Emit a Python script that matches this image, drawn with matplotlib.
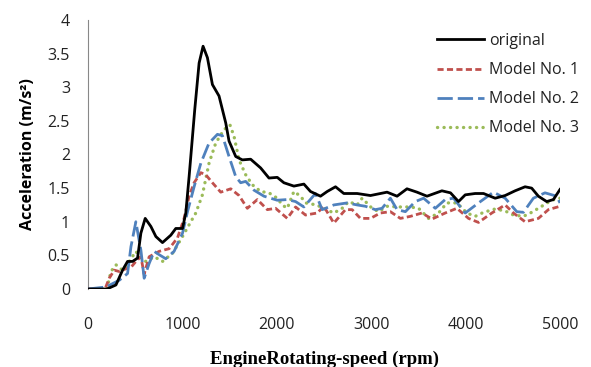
import matplotlib
matplotlib.use("Agg")
import matplotlib.pyplot as plt

# Engine speed (rpm) / acceleration (m/s^2)
orig_x = [0,200,296,366,419,472,525,560,606,666,719,789,877,930,1001,1036,1071,1107,1131,1177,1219,1265,1318,1388,1459,1494,1565,1635,1723,1829,1917,2005,2075,2181,2287,2357,2463,2534,2622,2710,2851,2992,3168,3274,3379,3485,3591,3749,3840,3925,3996,4101,4190,4313,4419,4524,4630,4700,4771,4859,4930,5000]
orig_y = [0,0,0.06,0.28,0.41,0.41,0.46,0.83,1.05,0.93,0.78,0.69,0.80,0.90,0.90,1.13,1.67,2.27,2.67,3.36,3.61,3.44,3.04,2.87,2.47,2.20,1.97,1.92,1.93,1.80,1.65,1.66,1.58,1.53,1.56,1.45,1.38,1.45,1.52,1.42,1.42,1.39,1.44,1.38,1.49,1.44,1.38,1.46,1.43,1.30,1.40,1.42,1.42,1.35,1.39,1.46,1.52,1.50,1.38,1.30,1.33,1.48]

m1_x = [0,180,225,278,331,400,460,507,560,595,648,754,860,948,1018,1071,1124,1195,1247,1318,1406,1512,1600,1688,1794,1900,1987,2111,2199,2304,2428,2498,2604,2727,2798,2886,2992,3097,3203,3309,3414,3538,3644,3784,3908,4031,4137,4278,4419,4507,4630,4771,4877,5000]
m1_y = [0,0,0.16,0.28,0.26,0.30,0.33,0.41,0.48,0.22,0.48,0.56,0.60,0.76,1.05,1.38,1.58,1.73,1.70,1.58,1.44,1.49,1.39,1.20,1.33,1.18,1.20,1.05,1.22,1.10,1.13,1.23,0.98,1.18,1.18,1.05,1.05,1.13,1.15,1.05,1.08,1.13,1.04,1.13,1.20,1.05,0.99,1.13,1.25,1.13,1.00,1.05,1.18,1.23]

m2_x = [0,190,331,419,455,507,560,595,648,701,754,824,912,1001,1054,1124,1195,1282,1371,1424,1494,1565,1617,1670,1758,1864,2005,2111,2199,2287,2410,2481,2604,2745,2851,2939,3044,3115,3203,3274,3362,3467,3555,3679,3784,3872,3996,4137,4295,4419,4542,4612,4718,4841,4965,5000]
m2_y = [0,0.03,0.13,0.23,0.63,1.0,0.58,0.16,0.38,0.56,0.51,0.45,0.56,0.83,1.15,1.52,1.87,2.17,2.30,2.28,1.97,1.67,1.58,1.60,1.47,1.38,1.32,1.33,1.30,1.22,1.42,1.18,1.25,1.28,1.25,1.23,1.18,1.20,1.35,1.18,1.15,1.30,1.35,1.20,1.33,1.35,1.13,1.28,1.44,1.35,1.15,1.14,1.35,1.43,1.38,1.28]

m3_x = [0,200,243,296,366,437,507,560,613,701,789,895,1001,1089,1142,1212,1282,1353,1441,1504,1547,1600,1670,1741,1829,1917,2005,2058,2111,2181,2252,2304,2420,2604,2692,2762,2851,2904,3009,3080,3168,3309,3414,3502,3608,3714,3802,3908,4014,4101,4190,4313,4419,4507,4612,4700,4806,4912,5000]
m3_y = [0,0,0.26,0.36,0.28,0.41,0.56,0.46,0.41,0.48,0.41,0.53,0.78,1.0,1.13,1.40,1.87,2.17,2.37,2.44,2.27,1.92,1.70,1.55,1.45,1.43,1.35,1.25,1.20,1.45,1.38,1.28,1.25,1.13,1.20,1.30,1.25,1.35,1.20,1.15,1.23,1.22,1.22,1.20,1.05,1.13,1.28,1.28,1.13,1.08,1.14,1.19,1.16,1.10,1.08,1.14,1.23,1.32,1.35]

labels = ["original", "Model No. 1", "Model No. 2", "Model No. 3"]
x_ticks = [0, 1000, 2000, 3000, 4000, 5000]
y_ticks = [0, 0.5, 1, 1.5, 2, 2.5, 3, 3.5, 4]
y_tick_labels = ["0", "0.5", "1", "1.5", "2", "2.5", "3", "3.5", "4"]

W, H = 591, 367
fig = plt.figure(figsize=(W / 100, H / 100), dpi=100)
ax = fig.add_axes([88 / W, 1 - 289 / H, (560 - 88) / W, (289 - 20) / H])

lw = 2.0
ax.plot(orig_x, orig_y, color="black", lw=lw, solid_joinstyle="round", label=labels[0], zorder=5)
ax.plot(m1_x, m1_y, color="#C0504D", lw=lw, dashes=(2.2, 1.2), dash_capstyle="butt", label=labels[1], zorder=3)
ax.plot(m2_x, m2_y, color="#4F81BD", lw=lw, dashes=(5.5, 1.8), dash_capstyle="butt", label=labels[2], zorder=4)
ax.plot(m3_x, m3_y, color="#9BBB59", lw=2.4, dashes=(0.05, 1.9), dash_capstyle="round", label=labels[3], zorder=2)

ax.set_xlim(0, 5000)
ax.set_ylim(0, 4)
ax.set_xticks(x_ticks)
ax.set_yticks(y_ticks)
ax.set_yticklabels(y_tick_labels)
for t in ax.get_xticklabels() + ax.get_yticklabels():
    t.set_fontfamily("Open Sans")
    t.set_fontsize(11.5)
    t.set_color("#222222")
ax.tick_params(axis="both", length=0)
ax.tick_params(axis="x", pad=20)
ax.tick_params(axis="y", pad=13)

for s in ["top", "right", "bottom"]:
    ax.spines[s].set_visible(False)
ax.spines["left"].set_color("#888888")
ax.spines["left"].set_linewidth(0.8)

ax.set_ylabel("Acceleration (m/s²)", family="Open Sans", fontweight="bold", fontsize=11.5, labelpad=8)
ax.set_xlabel("EngineRotating-speed (rpm)", family="Liberation Serif", fontweight="bold", fontsize=13.5, labelpad=13)

leg = fig.legend(loc="upper left", bbox_to_anchor=(437 / W, 1 - 33 / H), bbox_transform=fig.transFigure,
                 frameon=False, prop=dict(family="Open Sans", size=11.5), handlelength=2.95,
                 handletextpad=0.3, labelspacing=0.82, borderpad=0, borderaxespad=0)
for t in leg.get_texts():
    t.set_color("#222222")

fig.savefig("out.png", dpi=100)
